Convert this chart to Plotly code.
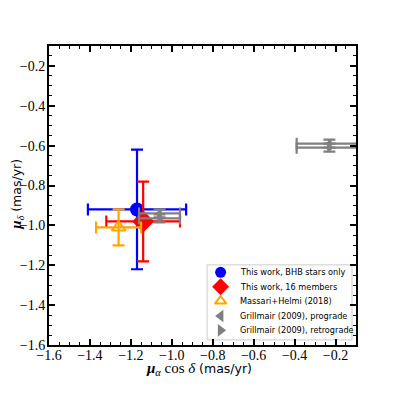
import plotly.graph_objects as go

# proper-motion measurements (mas/yr)
labels = ["This work, BHB stars only", "This work, 16 members", "Massari+Helmi (2018)",
          "Grillmair (2009), prograde", "Grillmair (2009), retrograde"]
pmra = [[-1.17], [-1.14], [-1.26], [-1.06, -0.23], [-1.06, -0.23]]
pmdec = [[-0.92], [-0.98], [-1.01], [-0.94, -0.59], [-0.965, -0.61]]
pmra_err = [[0.24], [0.18], [0.11], [0.10, 0.16], [0.10, 0.16]]
pmdec_err = [[0.30], [0.20], [0.09], [0.02, 0.02], [0.02, 0.02]]

colors = ["blue", "red", "orange", "grey", "grey"]
symbols = ["circle", "diamond", "triangle-up-open", "triangle-left", "triangle-right"]
sizes = [14, 17, 12, 9, 9]
leg_sizes = [11, 13, 10, 11, 11]

fig = go.Figure()
for i in range(len(labels)):
    fig.add_trace(go.Scatter(
        x=pmra[i], y=pmdec[i], mode="markers", name=labels[i], showlegend=False,
        marker=dict(color=colors[i], symbol=symbols[i], size=sizes[i],
                    line=dict(width=2 if i == 2 else 0, color=colors[i])),
        error_x=dict(type="data", array=pmra_err[i], color=colors[i], thickness=2.2, width=6),
        error_y=dict(type="data", array=pmdec_err[i], color=colors[i], thickness=2.2, width=6),
    ))

# hand-made legend (matplotlib-like compact spacing) on an overlay 0..1 frame
leg_x0, leg_x1, leg_y0, leg_y1 = 0.515, 0.987, 0.017, 0.268
row_y = [0.243, 0.195, 0.147, 0.097, 0.049]
fig.add_shape(type="rect", xref="x2", yref="y2", x0=leg_x0, x1=leg_x1, y0=leg_y0, y1=leg_y1,
              line=dict(color="#cccccc", width=1), fillcolor="white", layer="below")
for i in range(len(labels)):
    fig.add_trace(go.Scatter(
        x=[0.559], y=[row_y[i]], xaxis="x2", yaxis="y2", mode="markers", showlegend=False,
        marker=dict(color=colors[i], symbol=symbols[i], size=leg_sizes[i],
                    line=dict(width=2 if i == 2 else 0, color=colors[i])),
        hoverinfo="skip",
    ))
    fig.add_annotation(x=0.617, y=row_y[i], xref="x2", yref="y2", text=labels[i],
                       showarrow=False, xanchor="left", yanchor="middle",
                       font=dict(family="DejaVu Sans", size=8.2, color="black"))

axis = dict(
    showgrid=False, zeroline=False, showline=True, linecolor="black", linewidth=2,
    mirror="allticks", ticks="inside", ticklen=6, tickwidth=1.5, tickcolor="black",
    dtick=0.2, tickformat=".1f", automargin=False,
    minor=dict(ticks="inside", ticklen=3, tickwidth=1, dtick=0.05, tickcolor="black"),
    tickfont=dict(family="Liberation Serif", size=14, color="black"),
)
title_font = dict(family="Liberation Serif", size=15, color="black")
unit = "<span style='font-family:DejaVu Sans;font-size:12.5px'>(mas/yr)</span>"

fig.add_annotation(x=0.49, y=-0.08, xref="paper", yref="paper", showarrow=False,
                   text="<b><i>μ</i></b><sub><i>α</i></sub> cos <i>δ</i> " + unit,
                   font=title_font, xanchor="center", yanchor="middle")
fig.add_annotation(x=-0.105, y=0.505, xref="paper", yref="paper", showarrow=False,
                   text="<b><i>μ</i></b><sub><i>δ</i></sub> " + unit, textangle=-90,
                   font=title_font, xanchor="center", yanchor="middle")

# page body adds an 8px offset, so margins are shifted to compensate
fig.update_layout(
    width=395, height=395,
    margin=dict(l=41, r=47, t=38, b=58),
    plot_bgcolor="white", paper_bgcolor="white",
    xaxis=dict(axis, range=[-1.6, -0.1], tick0=-1.6, ticklabelstandoff=-4),
    yaxis=dict(axis, range=[-1.6, -0.1], tick0=-1.6, ticklabelstandoff=-1),
    xaxis2=dict(range=[0, 1], overlaying="x", anchor="y2", visible=False, fixedrange=True),
    yaxis2=dict(range=[0, 1], overlaying="y", anchor="x2", visible=False, fixedrange=True),
    showlegend=False,
)

fig.write_html("out.html")
